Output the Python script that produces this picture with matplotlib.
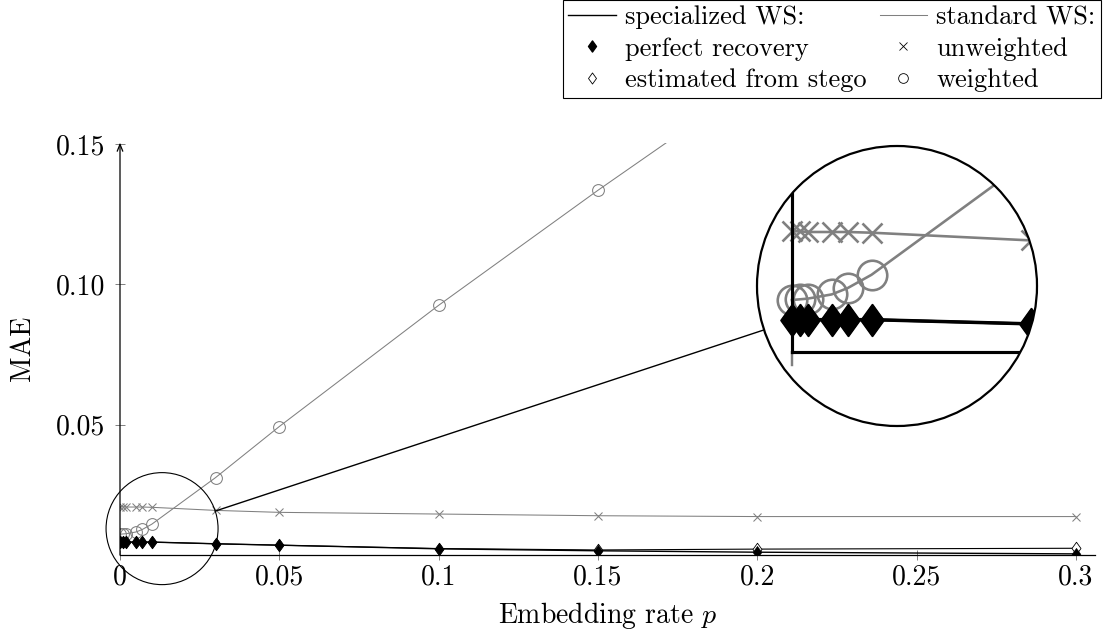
import numpy as np
import matplotlib
matplotlib.use("Agg")
import matplotlib.pyplot as plt
from matplotlib.patches import Circle, Ellipse
from matplotlib.lines import Line2D
from matplotlib.path import Path

plt.rcParams['font.family'] = ['cmr10', 'DejaVu Serif']
plt.rcParams['mathtext.fontset'] = 'cm'
plt.rcParams['axes.formatter.use_mathtext'] = True

# donnees
p = [0, 0.001, 0.002, 0.005, 0.007, 0.01, 0.03, 0.05, 0.1, 0.15, 0.2, 0.3]
perfect = [0.0081, 0.0081, 0.0081, 0.0081, 0.0081, 0.0081, 0.0075, 0.0070, 0.0057, 0.0050, 0.0045, 0.0039]
estimated = [0.0081, 0.0081, 0.0081, 0.0081, 0.0081, 0.0081, 0.0075, 0.0070, 0.0058, 0.0053, 0.0056, 0.0059]
unweighted = [0.0207, 0.0207, 0.0206, 0.0206, 0.0206, 0.0205, 0.0194, 0.0187, 0.0181, 0.0175, 0.0172, 0.0172]
weighted = [0.0109, 0.0110, 0.0111, 0.0117, 0.0126, 0.0145, 0.0311, 0.0493, 0.0925, 0.1335, 0.173, 0.25]

xticks = [0, 0.05, 0.1, 0.15, 0.2, 0.25, 0.3]
xticklabels = ['0', '0.05', '0.1', '0.15', '0.2', '0.25', '0.3']
yticks = [0.05, 0.10, 0.15]
yticklabels = ['0.05', '0.10', '0.15']

xmin, xmax = 0, 0.306
ymin, ymax = 0.0035, 0.1505
spy_center = (0.0132, 0.0129)
mag = 2.5
GRAY = '#808080'

# losange facon pgfplots (plus large que 'd')
losange = Path([(0, 1), (0.72, 0), (0, -1), (-0.72, 0), (0, 1)],
               [Path.MOVETO, Path.LINETO, Path.LINETO, Path.LINETO, Path.CLOSEPOLY])

W, H = 1103, 639
fig = plt.figure(figsize=(W / 100, H / 100), dpi=100)
ax = fig.add_axes([120 / W, 84 / H, 975 / W, 412.4 / H])


def trace(a, s):
    # s = facteur d'agrandissement (loupe)
    a.plot(p, unweighted, color=GRAY, lw=0.75 * s, marker='x', ms=5.5 * s,
           mew=0.75 * s, mec=GRAY, zorder=2)
    a.plot(p, weighted, color=GRAY, lw=0.75 * s, marker='o', ms=8.5 * s,
           mfc='none', mec=GRAY, mew=0.75 * s, zorder=2)
    a.plot(p, estimated, color='black', lw=0.8 * s, marker=losange, ms=9 * s,
           mfc='white', mec='black', mew=0.6 * s, zorder=3)
    a.plot(p, perfect, color='black', lw=1.0 * s, marker=losange, ms=9 * s,
           mfc='black', mec='black', mew=0.3 * s, zorder=4)


trace(ax, 1)
ax.set_xlim(xmin, xmax)
ax.set_ylim(ymin, ymax)
for s in ['top', 'right', 'left']:
    ax.spines[s].set_visible(False)
ax.spines['bottom'].set_linewidth(0.9)
ax.annotate('', xy=(0, 1), xytext=(0, 0), xycoords='axes fraction',
            arrowprops=dict(arrowstyle='->,head_length=0.5,head_width=0.2', lw=0.9,
                            color='black', shrinkA=0, shrinkB=0))
ax.set_xticks(xticks)
ax.set_xticklabels(xticklabels)
ax.set_yticks(yticks)
ax.set_yticklabels(yticklabels)
ax.tick_params(direction='inout', length=7.5, width=0.7, color=GRAY, labelsize=20)
ax.tick_params(axis='x', pad=3)
ax.tick_params(axis='y', pad=7)
ax.set_xlabel('Embedding rate $p$', fontsize=20)
ax.set_ylabel('MAE', fontsize=20, va='center')
ax.xaxis.set_label_coords(0.5, -0.11)
ax.yaxis.set_label_coords(-0.1, 0.5)

# petite loupe sur le graphe principal
r_small = 56
sx = ax.get_position().width * W / (xmax - xmin)
sy = ax.get_position().height * H / (ymax - ymin)
ax.add_patch(Ellipse(spy_center, 2 * r_small / sx, 2 * r_small / sy, fill=False,
                     ec='black', lw=0.8, clip_on=False, zorder=5))

# loupe agrandie
r_big = r_small * mag
cx, cy = 897, 286
axins = fig.add_axes([(cx - r_big) / W, (H - cy - r_big) / H, 2 * r_big / W, 2 * r_big / H])
trace(axins, mag)
hx = r_big / (sx * mag)
hy = r_big / (sy * mag)
axins.set_xlim(spy_center[0] - hx, spy_center[0] + hx)
axins.set_ylim(spy_center[1] - hy, spy_center[1] + hy)
axins.plot([0, 0], [ymin - 0.0019, ymin], color=GRAY, lw=0.7 * mag, zorder=5)
axins.plot([0, 0], [ymin, 1], color='black', lw=0.9 * mag, zorder=6)
axins.plot([0, 1], [ymin, ymin], color='black', lw=0.9 * mag, zorder=6)
axins.set_axis_off()
clip = Circle((0.5, 0.5), 0.5, transform=axins.transAxes)
for art in axins.lines:
    art.set_clip_path(clip)
axins.add_patch(Circle((0.5, 0.5), 0.5, transform=axins.transAxes, fill=False,
                       ec='black', lw=1.6, clip_on=False, zorder=10))

# trait de liaison
fig.canvas.draw()
c1 = ax.transData.transform(spy_center)
c2 = np.array([cx, H - cy])
u = (c2 - c1) / np.hypot(*(c2 - c1))
a1 = c1 + u * r_small
a2 = c2 - u * r_big
fig.add_artist(Line2D([a1[0] / W, a2[0] / W], [a1[1] / H, a2[1] / H],
                      transform=fig.transFigure, color='black', lw=1.0))

# legende
handles = [
    Line2D([], [], color='black', lw=1.0),
    Line2D([], [], ls='none', marker=losange, ms=8, mfc='black', mec='black'),
    Line2D([], [], ls='none', marker=losange, ms=8, mfc='white', mec='black', mew=0.6),
    Line2D([], [], color=GRAY, lw=0.75),
    Line2D([], [], ls='none', marker='x', ms=5.5, mec='black', mew=0.6),
    Line2D([], [], ls='none', marker='o', ms=7, mfc='none', mec='black', mew=0.6),
]
labels = ['specialized WS:', 'perfect recovery', 'estimated from stego',
          'standard WS:', 'unweighted', 'weighted']
leg = fig.legend(handles, labels, ncol=2, loc='upper right',
                 bbox_to_anchor=(1101 / W, 1.0), fontsize=19, frameon=True,
                 fancybox=False, edgecolor='black', framealpha=1,
                 handlelength=1.8, handletextpad=0.35, columnspacing=0.5,
                 labelspacing=0.3, borderpad=0.2, borderaxespad=0)
leg.get_frame().set_linewidth(0.8)

fig.savefig('out.png', dpi=100)
